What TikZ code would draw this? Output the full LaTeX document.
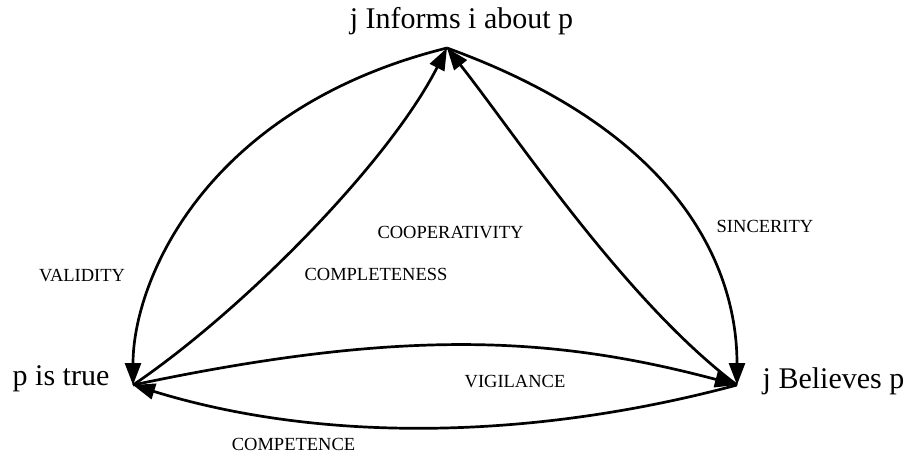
\documentclass[tikz,border=0pt]{standalone}
\usepackage{fontspec}
\setmainfont{Liberation Serif}
\usetikzlibrary{arrows.meta}
\begin{document}
\begin{tikzpicture}[x=1pt,y=-1pt,
  conn/.style={line width=2.7pt,-{Triangle[length=22pt,width=16pt]}},
  big/.style={font=\fontsize{30}{36}\selectfont, inner sep=0pt},
  lab/.style={font=\fontsize{18.5}{22}\selectfont, inner sep=0pt}]
\useasboundingbox (0,0) rectangle (908,455);
% anchor points of the three statements
\coordinate (T) at (447,48);
\coordinate (L) at (133,385);
\coordinate (R) at (737,385);
% statements
\node[big,anchor=base] (nT) at (461.5,28) {j Informs i about p};
\node[big,anchor=base] (nL) at (61,385) {p is true};
\node[big,anchor=base] (nR) at (833.5,388) {j Believes p};
% connectors
\draw[conn] (T) .. controls (205,108) and (133,281) .. (L);   % validity
\draw[conn] (T) .. controls (682,133) and (737,269) .. (R);   % sincerity
\draw[conn] (L) .. controls (241,312) and (388,164) .. (T);   % completeness
\draw[conn] (R) .. controls (625,301) and (515,134) .. (T);   % cooperativity
\draw[conn] (L) .. controls (407,327) and (556,337) .. (R);   % vigilance
\draw[conn] (R) .. controls (540,438) and (328,445) .. (L);   % competence
% labels
\node[lab,anchor=base] (lVal) at (82,281) {VALIDITY};
\node[lab,anchor=base] (lCom) at (376,280) {COMPLETENESS};
\node[lab,anchor=base] (lCoo) at (450.5,238) {COOPERATIVITY};
\node[lab,anchor=base] (lSin) at (765,232) {SINCERITY};
\node[lab,anchor=base] (lVig) at (515,387) {VIGILANCE};
\node[lab,anchor=base] (lCpt) at (293.5,450) {COMPETENCE};
\end{tikzpicture}
\end{document}
